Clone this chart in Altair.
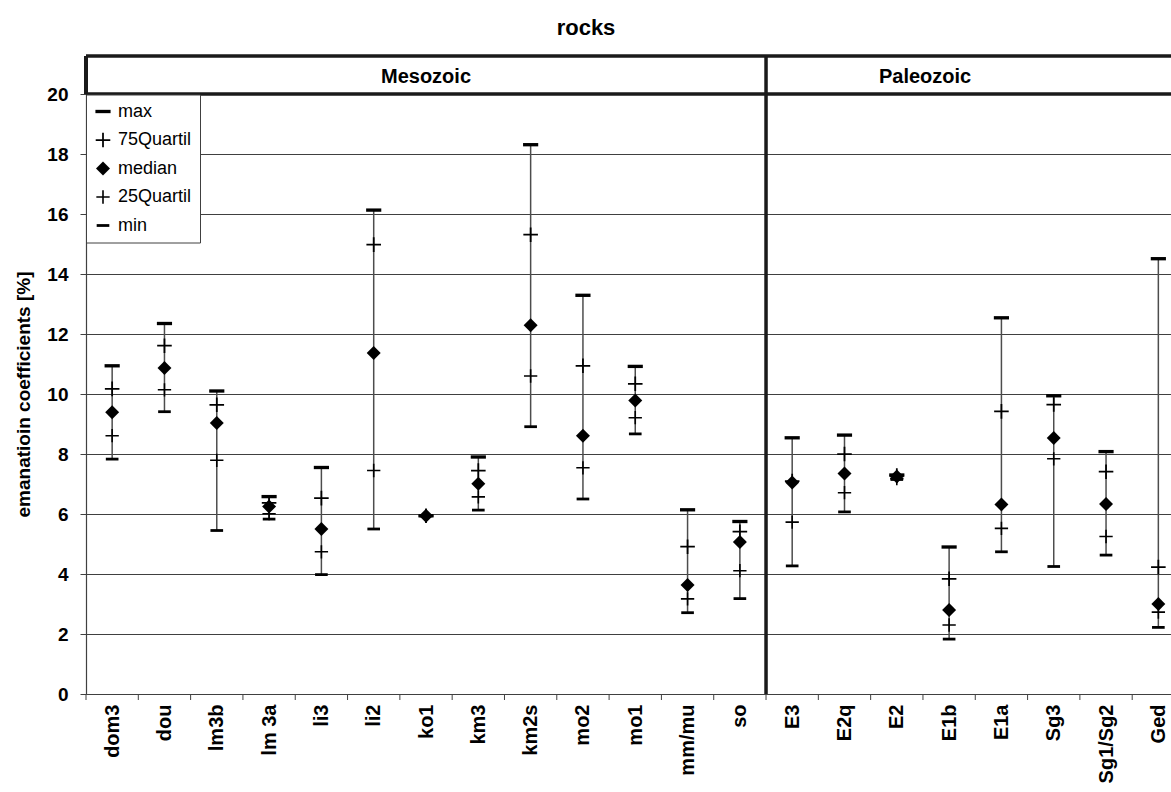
import altair as alt
import pandas as pd

# Rock units along the x axis (Mesozoic first, then Paleozoic)
categories = ["dom3", "dou", "lm3b", "lm 3a", "li3", "li2", "ko1", "km3", "km2s", "mo2",
              "mo1", "mm/mu", "so",
              "E3", "E2q", "E2", "E1b", "E1a", "Sg3", "Sg1/Sg2", "Ged"]
eras = ["Mesozoic", "Paleozoic"]
era_counts = [13, 8]

# Emanation coefficient statistics [%] per rock unit
max_vals = [10.94, 12.35, 10.10, 6.58, 7.55, 16.13, 5.94, 7.90, 18.31, 13.29, 10.92, 6.14, 5.75,
            8.54, 8.63, 7.30, 4.90, 12.54, 9.94, 8.08, 14.51]
q75_vals = [10.17, 11.61, 9.64, 6.37, 6.53, 14.98, 5.94, 7.45, 15.31, 10.94, 10.34, 4.91, 5.41,
            7.10, 8.00, 7.28, 3.84, 9.42, 9.65, 7.41, 4.23]
median_vals = [9.39, 10.87, 9.03, 6.25, 5.50, 11.37, 5.94, 7.01, 12.29, 8.61, 9.78, 3.63, 5.07,
               7.05, 7.35, 7.25, 2.80, 6.32, 8.53, 6.33, 3.00]
q25_vals = [8.61, 10.14, 7.79, 6.01, 4.74, 7.45, 5.94, 6.57, 10.60, 7.54, 9.21, 3.17, 4.11,
            5.73, 6.71, 7.18, 2.30, 5.52, 7.84, 5.25, 2.73]
min_vals = [7.83, 9.41, 5.45, 5.83, 3.98, 5.50, 5.94, 6.13, 8.91, 6.50, 8.67, 2.71, 3.18,
            4.27, 6.07, 7.15, 1.83, 4.74, 4.25, 4.63, 2.22]
stat_names = ["max", "75Quartil", "median", "25Quartil", "min"]
y_ticks = [0, 2, 4, 6, 8, 10, 12, 14, 16, 18, 20]

FONT = "Liberation Sans"
INK = "#000000"
LINE = "#404040"

# ---- layout --------------------------------------------------------------
PLOT_W, PLOT_H = 1085, 600
BAND = 52.31                      # pixels per rock unit
X_MAX = PLOT_W / BAND             # last band runs past the right edge
HEADER_TOP = -38                  # header strip above the plot area (px)
PALEO_LABEL_X = 16.04             # Paleozoic caption sits left of the strip's middle

# ---- tables --------------------------------------------------------------
series = dict(zip(stat_names, [max_vals, q75_vals, median_vals, q25_vals, min_vals]))
draw_order = ["max", "min", "75Quartil", "25Quartil", "median"]
rows = []
for stat in draw_order:
    for i, cat in enumerate(categories):
        rows.append({"cat": cat, "pos": i + 0.5, "stat": stat, "value": series[stat][i]})
points = pd.DataFrame(rows)

whiskers = pd.DataFrame({
    "cat": categories,
    "pos": [i + 0.5 for i in range(len(categories))],
    "lo": min_vals,
    "hi": max_vals,
})

bounds = pd.DataFrame({"b": list(range(len(categories)))})

era_table = pd.DataFrame({
    "era": eras,
    "center": [era_counts[0] / 2, PALEO_LABEL_X],
})

label_js = "[" + ",".join("'" + c + "'" for c in categories) + "]"

xs = alt.Scale(domain=[0, X_MAX], nice=False, zero=False)
ys = alt.Scale(domain=[0, 20], nice=False, zero=True)

x_axis = alt.Axis(
    values=[i + 0.5 for i in range(len(categories))],
    labelExpr=label_js + "[floor(datum.value)]",
    labelAngle=-90, labelFontSize=20, labelFontWeight="bold", labelFont=FONT,
    labelColor=INK, labelPadding=10, labelFlush=False, labelOverlap=False,
    ticks=False, tickSize=0, grid=False, domainColor=LINE, domainWidth=1.2, title=None,
)
y_axis = alt.Axis(
    values=y_ticks, title="emanatioin coefficients [%]",
    titleFontSize=19, titleFontWeight="bold", titleFont=FONT, titleColor=INK, titlePadding=13,
    labelFontSize=19, labelFontWeight="bold", labelFont=FONT, labelColor=INK, labelPadding=12,
    grid=True, gridColor=LINE, gridWidth=1, tickSize=6, tickColor=LINE, domainColor=LINE,
    domainWidth=1.2,
)

X = lambda f: alt.X(f, type="quantitative", scale=xs, axis=x_axis)
Y = lambda f: alt.Y(f, type="quantitative", scale=ys, axis=y_axis)

# min-max whiskers
whisker_layer = alt.Chart(whiskers).mark_rule(color="#4d4d4d", strokeWidth=1.5).encode(
    x=X("pos"), y=Y("lo"), y2="hi"
)

# markers: dashes for min/max, plus signs for quartiles, diamond for the median
dash = "M-1,-0.22H1V0.22H-1Z"
plus = "M-1,-0.12H-0.12V-1H0.12V-0.12H1V0.12H0.12V1H-0.12V0.12H-1Z"
rhomb = "M0,-1L1,0L0,1L-1,0Z"
legend = alt.Legend(orient="none", legendX=0, legendY=0.5, title=None,
                    padding=8, rowPadding=10.5, labelFontSize=18,
                    labelFont=FONT, labelColor=INK, labelOffset=6,
                    strokeColor=LINE, fillColor="white",
                    symbolFillColor=INK, symbolStrokeWidth=0)
point_layer = alt.Chart(points).mark_point(filled=True, opacity=1, color=INK, strokeWidth=0).encode(
    x=X("pos"),
    y=Y("value"),
    shape=alt.Shape("stat:N", scale=alt.Scale(domain=stat_names,
                                              range=[dash, plus, rhomb, plus, dash]),
                    legend=legend),
    size=alt.Size("stat:N", scale=alt.Scale(domain=stat_names, range=[230, 160, 310, 160, 230]),
                  legend=legend),
)

# category tick marks on the x axis at the band boundaries
tick_layer = alt.Chart(bounds).mark_rule(color=LINE, strokeWidth=1).encode(
    x=X("b"), y=alt.value(PLOT_H), y2=alt.value(PLOT_H + 6)
)

# header strip with era names
frame = pd.DataFrame({"x0": [0.0], "x1": [X_MAX], "div": [float(era_counts[0])], "top": [20.0]})
top_line = alt.Chart(frame).mark_rule(color="#1a1a1a", strokeWidth=3.5).encode(
    x=X("x0"), x2="x1", y=alt.value(HEADER_TOP)
)
y20_line = alt.Chart(frame).mark_rule(color="#1a1a1a", strokeWidth=3.5).encode(
    x=X("x0"), x2="x1", y=Y("top")
)
left_line = alt.Chart(frame).mark_rule(color="#1a1a1a", strokeWidth=4).encode(
    x=X("x0"), y=alt.value(HEADER_TOP), y2=alt.value(0)
)
divider = alt.Chart(frame).mark_rule(color="#1a1a1a", strokeWidth=3.5).encode(
    x=X("div"), y=alt.value(HEADER_TOP), y2=alt.value(PLOT_H)
)
era_text = alt.Chart(era_table).mark_text(
    font=FONT, fontSize=20, fontWeight="bold", color=INK, align="center", baseline="middle"
).encode(x=X("center"), y=alt.value(HEADER_TOP / 2 + 2), text="era:N")

title_df = pd.DataFrame({"t": ["rocks"]})
title_text = alt.Chart(title_df).mark_text(
    font=FONT, fontSize=22, fontWeight="bold", color=INK, align="center", baseline="middle"
).encode(x=alt.value(500), y=alt.value(-66), text="t:N")

chart = alt.layer(
    whisker_layer, tick_layer, y20_line, top_line, left_line, divider,
    point_layer, era_text, title_text,
).properties(
    width=PLOT_W, height=PLOT_H,
    autosize=alt.AutoSizeParams(type="none"),
    padding={"left": 86, "top": 94, "right": 0, "bottom": 90},
).configure(font=FONT).configure_view(stroke=None)

chart.save("out.html", embed_options={"renderer": "svg", "actions": False})
